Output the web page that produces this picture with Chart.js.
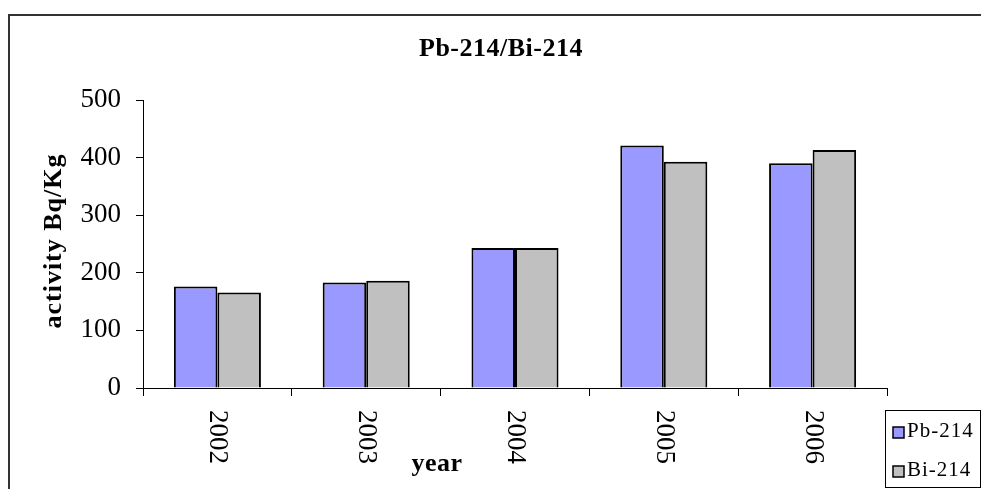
<!DOCTYPE html>
<html>
<head>
<meta charset="utf-8">
<script src="https://cdn.jsdelivr.net/npm/chart.js@4.4.0/dist/chart.umd.min.js"></script>
<style>
  body { margin: 0; background: #fff; }
  #wrap { width: 981px; height: 489px; }
</style>
</head>
<body>
<div id="wrap"><canvas id="chart" width="981" height="489"></canvas></div>
<script>
// dati
const years = ['2002', '2003', '2004', '2005', '2006'];
const pb214 = [176, 183, 243, 421, 390];
const bi214 = [166, 186, 243, 393, 413];
const yTicks = [0, 100, 200, 300, 400, 500];

const serif = '"Liberation Serif", "Times New Roman", serif';

// scritte disegnate a mano (titolo, assi, etichette ruotate, legenda, cornice)
const decor = {
    id: 'decor',
    afterDraw(chart) {
        const c = chart.ctx;
        const xs = chart.scales.x;
        c.save();
        c.fillStyle = '#000';

        // cornice esterna
        c.strokeStyle = '#333';
        c.lineWidth = 2;
        c.strokeRect(9, 15, 1000, 500);

        // titolo
        c.font = 'bold 26px ' + serif;
        c.letterSpacing = '0.5px';
        c.textAlign = 'center';
        c.textBaseline = 'alphabetic';
        c.fillText('Pb-214/Bi-214', 501, 56);

        // titolo asse y
        c.save();
        c.font = 'bold 26px ' + serif;
        c.letterSpacing = '1px';
        c.translate(61, 241);
        c.rotate(-Math.PI / 2);
        c.fillText('activity Bq/Kg', 0, 0);
        c.restore();

        // etichette x ruotate (lettura dall'alto in basso)
        c.font = '27px ' + serif;
        c.letterSpacing = '0px';
        c.textAlign = 'left';
        c.textBaseline = 'middle';
        years.forEach((y, i) => {
            const px = xs.getPixelForTick(i);
            c.save();
            c.translate(px, 410);
            c.rotate(Math.PI / 2);
            c.fillText(y, 0, 0);
            c.restore();
        });

        // titolo asse x
        c.font = 'bold 26px ' + serif;
        c.letterSpacing = '0.5px';
        c.textAlign = 'center';
        c.textBaseline = 'alphabetic';
        c.fillText('year', 437, 471);

        // legenda
        c.strokeStyle = '#000';
        c.lineWidth = 1;
        c.strokeRect(885.5, 410.5, 95, 77);
        c.font = '21px ' + serif;
        c.letterSpacing = '1px';
        c.textAlign = 'left';
        const rows = [437, 476];
        chart.data.datasets.forEach((ds, i) => {
            c.fillStyle = ds.backgroundColor;
            c.fillRect(893, rows[i] - 10, 11, 11);
            c.lineWidth = 1.5;
            c.strokeRect(893, rows[i] - 10, 11, 11);
            c.fillStyle = '#000';
            c.fillText(ds.label, 907, rows[i]);
        });
        c.restore();
    }
};

new Chart(document.getElementById('chart'), {
    type: 'bar',
    data: {
        labels: years,
        datasets: [
            { label: 'Pb-214', data: pb214, backgroundColor: '#9999FF', borderColor: '#000', borderWidth: 2 },
            { label: 'Bi-214', data: bi214, backgroundColor: '#C0C0C0', borderColor: '#000', borderWidth: 2 }
        ]
    },
    options: {
        responsive: false,
        animation: false,
        layout: { padding: { top: 100, right: 94, bottom: 0, left: 0 } },
        datasets: { bar: { categoryPercentage: 0.585, barPercentage: 1.0 } },
        plugins: { legend: { display: false }, title: { display: false }, tooltip: { enabled: false } },
        scales: {
            x: {
                afterFit: s => { s.height = 101; },
                grid: { offset: true, drawOnChartArea: false, color: '#000', tickLength: 8 },
                border: { color: '#000', width: 1 },
                ticks: { display: false }
            },
            y: {
                min: 0, max: 500,
                afterFit: s => { s.width = 143; },
                afterBuildTicks: s => { s.ticks = yTicks.map(v => ({ value: v })); },
                grid: { drawOnChartArea: false, color: '#000', tickLength: 7 },
                border: { color: '#000', width: 1 },
                ticks: { color: '#000', padding: 15, font: { family: serif, size: 27 } }
            }
        }
    },
    plugins: [decor]
});
</script>
</body>
</html>
